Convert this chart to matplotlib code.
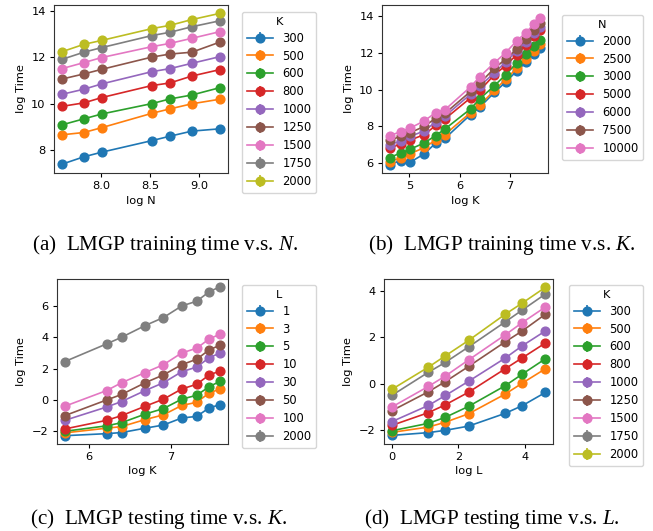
import numpy as np
import matplotlib
matplotlib.use("Agg")
import matplotlib.pyplot as plt

# ---------------- data ----------------
# (a) training time vs N, one series per K
a_N = [2000, 2500, 3000, 5000, 6000, 7500, 10000]
a_K = [300, 500, 600, 800, 1000, 1250, 1500, 1750, 2000]
a_logtime = [
    [7.38, 7.70, 7.90, 8.40, 8.59, 8.81, 8.91],
    [8.65, 8.75, 8.96, 9.58, 9.77, 9.99, 10.19],
    [9.08, 9.34, 9.55, 10.00, 10.20, 10.37, 10.69],
    [9.88, 10.03, 10.26, 10.78, 10.89, 11.19, 11.47],
    [10.40, 10.62, 10.85, 11.38, 11.51, 11.74, 12.03],
    [11.06, 11.28, 11.48, 12.01, 12.14, 12.22, 12.66],
    [11.51, 11.77, 11.99, 12.46, 12.60, 12.82, 13.11],
    [11.91, 12.22, 12.42, 12.94, 13.08, 13.32, 13.58],
    [12.24, 12.56, 12.73, 13.24, 13.38, 13.63, 13.90],
]

# (b) training time vs K, one series per N
b_K = [100, 125, 150, 200, 250, 300, 500, 600, 800, 1000, 1250, 1500, 1750, 2000]
b_N = [2000, 2500, 3000, 5000, 6000, 7500, 10000]
b_logtime = [
    [5.91, 6.14, 6.04, 6.51, 7.09, 7.34, 8.64, 9.04, 9.84, 10.40, 11.01, 11.48, 11.92, 12.24],
    [6.05, 6.30, 6.50, 6.85, 7.25, 7.55, 8.75, 9.15, 9.95, 10.55, 11.15, 11.65, 12.10, 12.50],
    [6.30, 6.55, 6.75, 7.10, 7.50, 7.85, 8.95, 9.50, 10.20, 10.80, 11.45, 11.95, 12.35, 12.70],
    [6.80, 7.05, 7.25, 7.55, 8.05, 8.40, 9.55, 9.95, 10.80, 11.30, 11.90, 12.40, 12.90, 13.25],
    [7.00, 7.20, 7.45, 7.75, 8.25, 8.55, 9.75, 10.20, 10.90, 11.50, 12.10, 12.60, 13.05, 13.40],
    [7.25, 7.45, 7.65, 8.00, 8.45, 8.70, 9.90, 10.35, 11.15, 11.65, 12.20, 12.75, 13.25, 13.60],
    [7.50, 7.70, 7.90, 8.30, 8.75, 8.90, 10.15, 10.70, 11.45, 12.00, 12.65, 13.10, 13.55, 13.90],
]

# (c) testing time vs K, one series per L
c_K = [300, 500, 600, 800, 1000, 1250, 1500, 1750, 2000]
c_L = [1, 3, 5, 10, 30, 50, 100, 2000]
c_logtime = [
    [-2.28, -2.15, -2.08, -1.80, -1.60, -1.15, -1.05, -0.50, -0.30],
    [-2.10, -1.80, -1.70, -1.25, -0.95, -0.35, -0.15, 0.45, 0.70],
    [-2.00, -1.65, -1.45, -0.90, -0.55, 0.05, 0.30, 0.85, 1.20],
    [-1.85, -1.30, -1.00, -0.40, 0.05, 0.70, 1.00, 1.60, 1.85],
    [-1.30, -0.45, -0.10, 0.60, 1.10, 1.80, 2.10, 2.70, 3.00],
    [-1.00, 0.00, 0.35, 1.10, 1.60, 2.25, 2.60, 3.20, 3.50],
    [-0.40, 0.60, 1.10, 1.75, 2.25, 3.00, 3.30, 3.90, 4.20],
    [2.45, 3.58, 4.00, 4.75, 5.26, 6.00, 6.30, 6.91, 7.23],
]

# (d) testing time vs L, one series per K
d_L = [1, 3, 5, 10, 30, 50, 100]
d_K = [300, 500, 600, 800, 1000, 1250, 1500, 1750, 2000]
d_logtime = [
    [-2.22, -2.10, -2.00, -1.82, -1.27, -0.94, -0.37],
    [-2.09, -1.86, -1.65, -1.29, -0.44, 0.03, 0.65],
    [-2.02, -1.70, -1.44, -0.97, -0.08, 0.42, 1.08],
    [-1.79, -1.24, -0.90, -0.36, 0.65, 1.12, 1.76],
    [-1.63, -0.93, -0.50, 0.11, 1.11, 1.64, 2.28],
    [-1.16, -0.34, 0.10, 0.75, 1.81, 2.28, 3.00],
    [-1.00, -0.11, 0.34, 1.03, 2.11, 2.64, 3.31],
    [-0.50, 0.50, 0.93, 1.59, 2.67, 3.18, 3.87],
    [-0.24, 0.72, 1.21, 1.87, 3.00, 3.48, 4.16],
]

captions = [
    "(a)  LMGP training time v.s. $N$.",
    "(b)  LMGP training time v.s. $K$.",
    "(c)  LMGP testing time v.s. $K$.",
    "(d)  LMGP testing time v.s. $L$.",
]

# ---------------- style ----------------
W, H = 653, 531
plt.rcParams["font.size"] = 8.2
plt.rcParams["mathtext.fontset"] = "custom"
plt.rcParams["mathtext.rm"] = "Liberation Serif"
plt.rcParams["mathtext.it"] = "Liberation Serif:italic"

fig = plt.figure(figsize=(W / 100, H / 100), dpi=100)


def px_axes(x0, y0, x1, y1):
    return fig.add_axes([x0 / W, 1 - y1 / H, (x1 - x0) / W, (y1 - y0) / H])


def panel(rect, xs, series, labels, title, xlabel, legpos, ylim=None, xticks=None):
    ax = px_axes(*rect)
    x = np.log(np.array(xs, dtype=float))
    for ys, lab in zip(series, labels):
        ax.errorbar(x, ys, yerr=np.zeros(len(ys)), marker="o", markersize=6.3,
                    linewidth=1.2, elinewidth=1.2, label=str(lab))
    ax.set_xlabel(xlabel, labelpad=3)
    ax.set_ylabel("log Time", labelpad=4)
    if ylim is not None:
        ax.set_ylim(*ylim)
    if xticks is not None:
        ax.set_xticks(xticks)
    ax.tick_params(length=3, pad=3)
    for s in ax.spines.values():
        s.set_color("#333333")
    ax.legend(title=title, loc="upper left",
              bbox_to_anchor=(legpos[0] / W, 1 - legpos[1] / H),
              bbox_transform=fig.transFigure, borderaxespad=0,
              handlelength=2.3, labelspacing=0.43, handletextpad=0.8,
              title_fontsize=8.2, fontsize=8.3)
    return ax


axa = panel((54, 5, 228, 173), a_N, a_logtime, a_K, "K", "log N", (242, 12),
            ylim=(7.0, 14.26), xticks=[8.0, 8.5, 9.0])
axb = panel((382, 5, 548, 173), b_K, b_logtime, b_N, "N", "log K", (562, 15),
            ylim=(5.46, 14.6), xticks=[5, 6, 7])
axc = panel((57, 279, 228, 444), c_K, c_logtime, c_L, "L", "log K", (242, 285),
            ylim=(-2.81, 7.72), xticks=[6, 7])
axd = panel((384, 279, 553, 444), d_L, d_logtime, d_K, "K", "log L", (569, 285),
            ylim=(-2.59, 4.52), xticks=[0, 2, 4])

cap_pos = [(165, 250), (502, 250), (159, 524), (492, 524)]
for (cx, cy), txt in zip(cap_pos, captions):
    fig.text(cx / W, 1 - cy / H, txt, ha="center", va="baseline",
             family="Liberation Serif", fontsize=15.2)

fig.savefig("out.png", dpi=100)
